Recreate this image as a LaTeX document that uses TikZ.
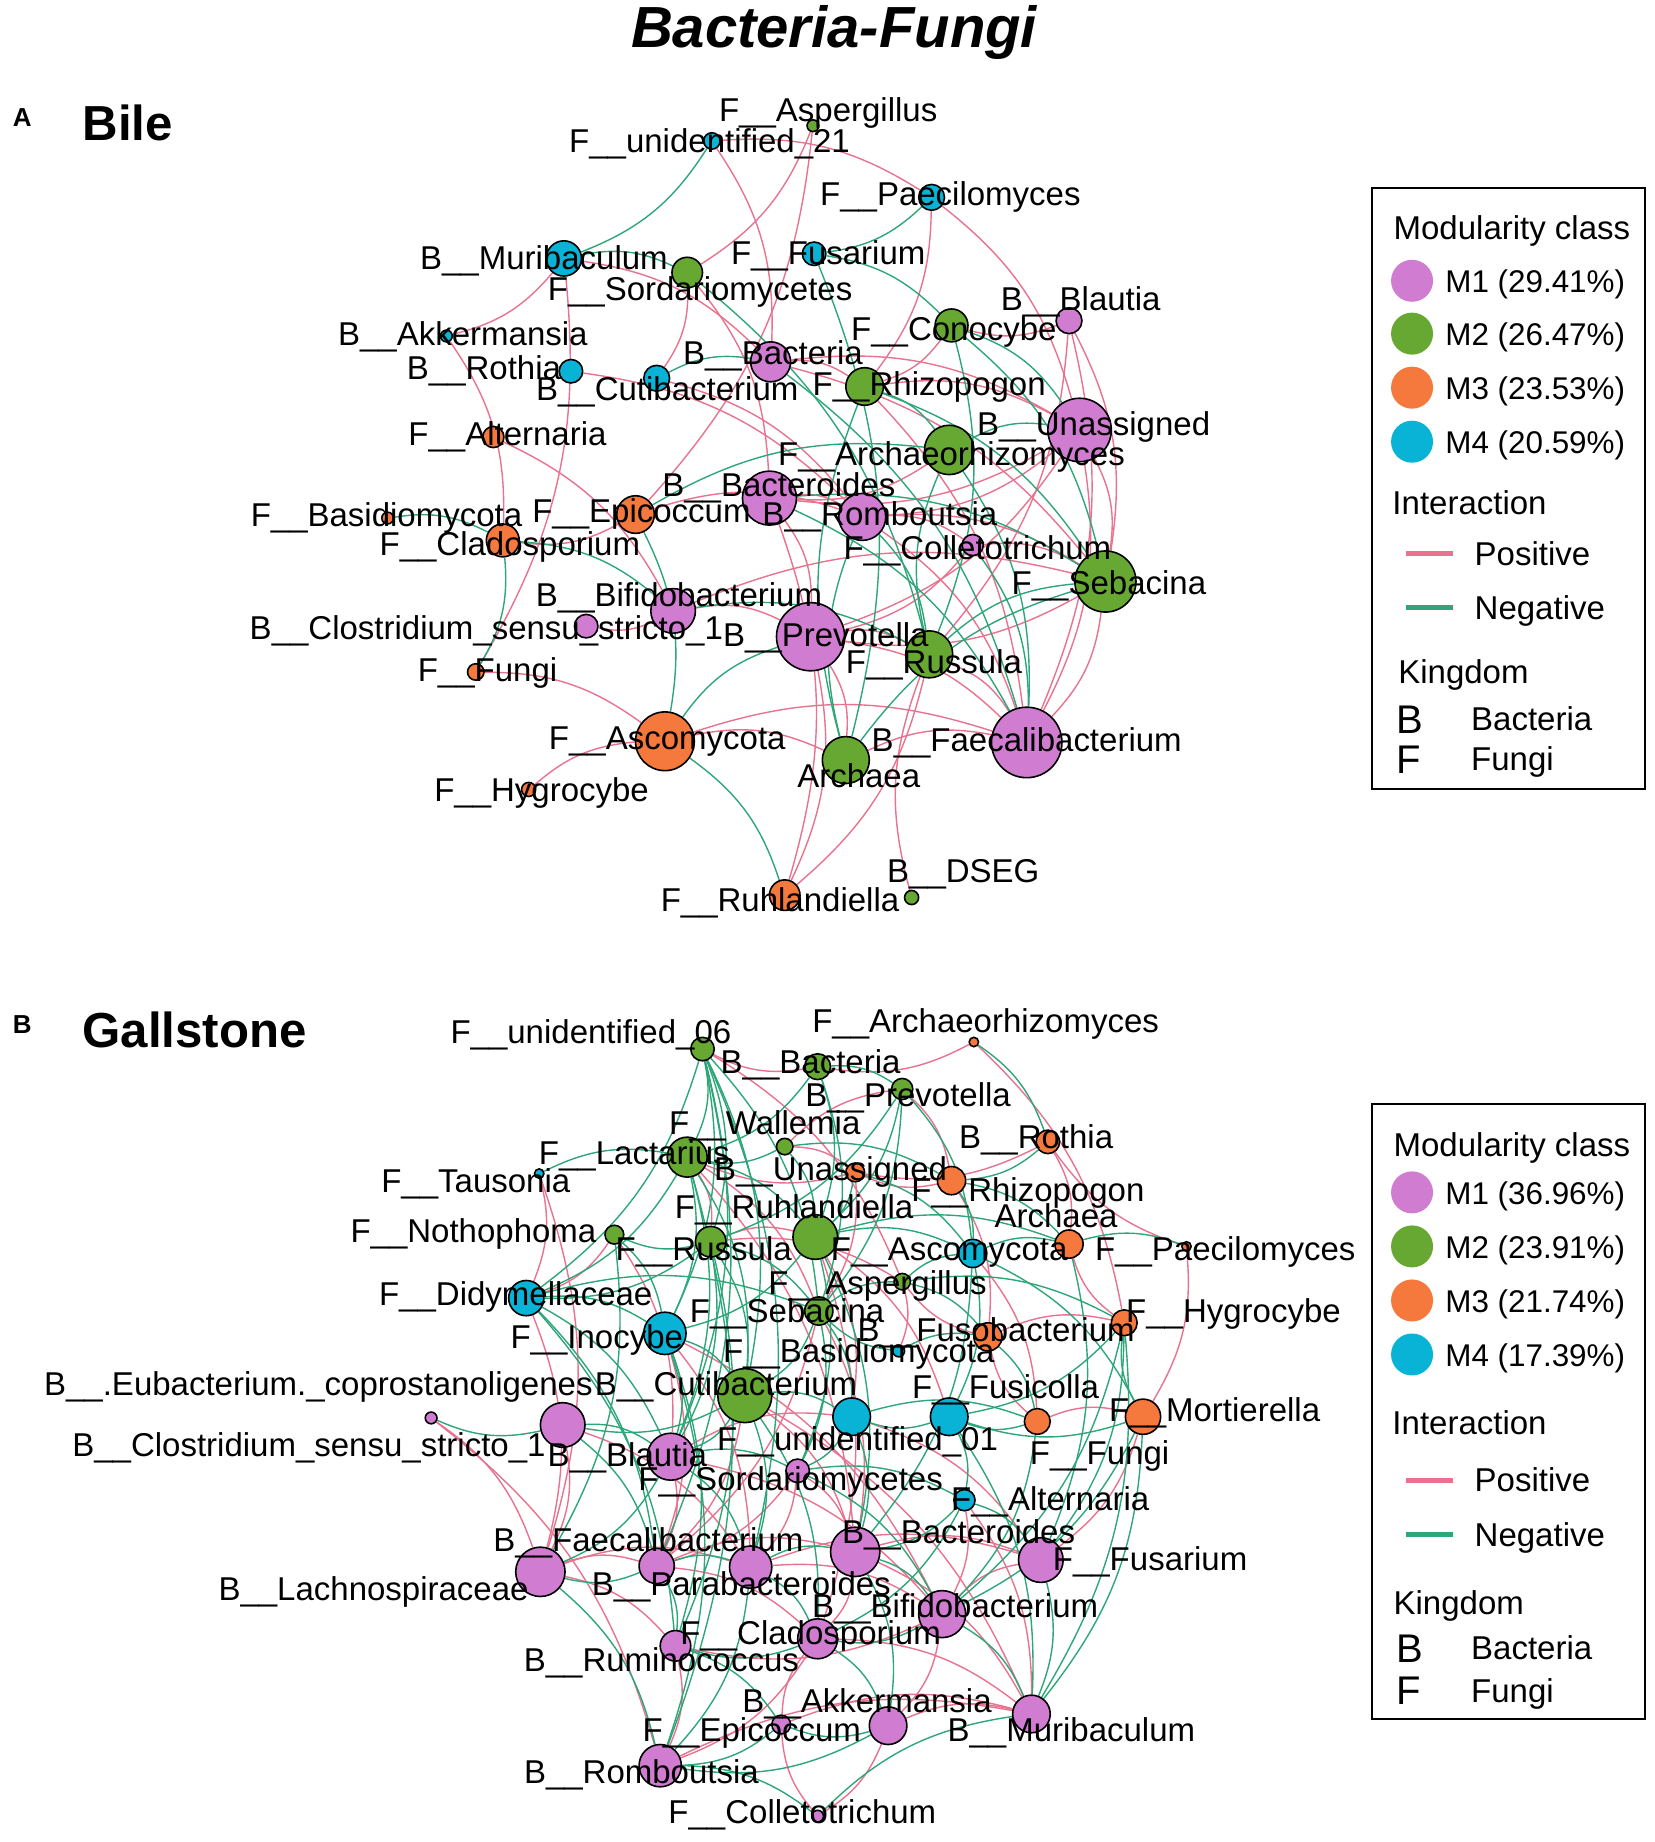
\documentclass[tikz,border=0pt]{standalone}
\usepackage{fontspec}
\setmainfont{Liberation Sans}
\usetikzlibrary{backgrounds}

\definecolor{modA}{HTML}{D07CD0}
\definecolor{modB}{HTML}{66A832}
\definecolor{modC}{HTML}{F5783C}
\definecolor{modD}{HTML}{08B3D6}
\definecolor{posline}{HTML}{E8728F}
\definecolor{negline}{HTML}{2DA679}

% name/x/y/radius/colour/label x/label y/label
\def\bilenodes{aAsp/692/107/5/modB/705/93/F\_\_Aspergillus,
aU21/606/120/7/modD/604/120/F\_\_unidentified\_21,
aPae/793/168/11/modD/809/165/F\_\_Paecilomyces,
aMur/480/220/15/modD/463/219/B\_\_Muribaculum,
aSor/585/232/13/modB/596/246/F\_\_Sordariomycetes,
aFus/693/216/10/modD/705/215/F\_\_Fusarium,
aBla/910/273/11/modA/920/254/B\_\_Blautia,
aCon/810/277/14/modB/812/280/F\_\_Conocybe,
aAkk/380/286/5/modD/394/284/B\_\_Akkermansia,
aBac/656/308/17/modA/658/300/B\_\_Bacteria,
aRot/486/316/10/modD/412/313/B\_\_Rothia,
aCut/559/322/11/modD/568/331/B\_\_Cutibacterium,
aRhi/736/329/16/modB/791/327/F\_\_Rhizopogon,
aUna/919/366/27/modA/931/361/B\_\_Unassigned,
aAlt/420/372/9/modC/432/369/F\_\_Alternaria,
aArz/808/383/21/modB/810/386/F\_\_Archaeorhizomyces,
aBtd/655/424/23/modA/663/413/B\_\_Bacteroides,
aEpi/541/438/16/modC/546/435/F\_\_Epicoccum,
aRom/734/440/20/modA/749/437/B\_\_Romboutsia,
aBas/330/441/5/modC/329/438/F\_\_Basidiomycota,
aCla/428/460/14/modC/434/463/F\_\_Cladosporium,
aCol/828/464/9/modA/832/466/F\_\_Colletotrichum,
aSeb/941/495/26/modB/944/496/F\_\_Sebacina,
aBif/573/520/19/modA/578/506/B\_\_Bifidobacterium,
aClo/499/533/10/modA/414/534/B\_\_Clostridium\_sensu\_stricto\_1,
aPre/690/542/29/modA/703/540/B\_\_Prevotella,
aRus/791/557/20/modB/795/563/F\_\_Russula,
aFun/405/572/7/modC/415/570/F\_\_Fungi,
aAsc/566/631/25/modC/568/628/F\_\_Ascomycota,
aFae/874/632/30/modA/874/630/B\_\_Faecalibacterium,
aArc/720/647/20/modB/731/660/Archaea,
aHyg/450/672/6/modC/461/672/F\_\_Hygrocybe,
aDse/776/764/6/modB/820/741/B\_\_DSEG,
aRuh/668/762/13/modC/664/766/F\_\_Ruhlandiella}

\def\gallnodes{bU06/598/893/10/modB/503/878/F\_\_unidentified\_06,
bArz/829/887/4/modC/839/869/F\_\_Archaeorhizomyces,
bBac/696/908/11/modB/690/904/B\_\_Bacteria,
bPre/768/927/9/modB/773/932/B\_\_Prevotella,
bWal/668/976/7/modB/651/956/F\_\_Wallemia,
bRot/892/972/10/modC/882/968/B\_\_Rothia,
bLac/585/985/17/modB/540/981/F\_\_Lactarius,
bUna/728/998/8/modC/707/995/B\_\_Unassigned,
bTau/459/999/4/modD/405/1005/F\_\_Tausonia,
bRhi/810/1005/12/modC/875/1013/F\_\_Rhizopogon,
bRuh/694/1053/19/modB/676/1027/F\_\_Ruhlandiella,
bArc/910/1059/12/modC/899/1035/Archaea,
bNot/523/1051/8/modB/403/1048/F\_\_Nothophoma,
bRus/605/1057/13/modB/599/1063/F\_\_Russula,
bAsc/828/1067/12/modD/808/1063/F\_\_Ascomycota,
bPae/1010/1061/4/modC/1043/1063/F\_\_Paecilomyces,
bAsp/768/1091/7/modB/747/1092/F\_\_Aspergillus,
bDid/448/1105/15/modD/439/1101/F\_\_Didymellaceae,
bHyg/957/1126/11/modC/1050/1116/F\_\_Hygrocybe,
bSeb/697/1116/12/modB/670/1116/F\_\_Sebacina,
bIno/566/1135/18/modD/508/1138/F\_\_Inocybe,
bFsb/841/1138/12/modC/848/1132/B\_\_Fusobacterium,
bBas/765/1150/5/modD/731/1150/F\_\_Basidiomycota,
bCut/634/1188/23/modB/618/1178/B\_\_Cutibacterium,
bEub/479/1213/19/modA/271/1178/B\_\_.Eubacterium.\_coprostanoligenes,
bFsc/808/1206/16/modD/856/1180/F\_\_Fusicolla,
bMor/973/1206/15/modC/1034/1200/F\_\_Mortierella,
bU01/725/1206/16/modD/730/1225/F\_\_unidentified\_01,
bFun/883/1210/11/modC/936/1237/F\_\_Fungi,
bClo/367/1207/5/modA/263/1230/B\_\_Clostridium\_sensu\_stricto\_1,
bBla/571/1240/20/modA/534/1238/B\_\_Blautia,
bSor/679/1252/10/modA/673/1259/F\_\_Sordariomycetes,
bAlt/821/1277/9/modD/894/1276/F\_\_Alternaria,
bFae/559/1333/15/modA/552/1311/B\_\_Faecalibacterium,
bLch/460/1338/21/modA/318/1352/B\_\_Lachnospiraceae,
bPar/639/1334/18/modA/631/1348/B\_\_Parabacteroides,
bBtd/728/1321/21/modA/816/1304/B\_\_Bacteroides,
bFsr/886/1328/19/modA/979/1327/F\_\_Fusarium,
bBif/802/1374/20/modA/813/1367/B\_\_Bifidobacterium,
bCla/696/1395/17/modA/690/1390/F\_\_Cladosporium,
bRum/575/1401/13/modA/563/1413/B\_\_Ruminococcus,
bAkk/756/1469/16/modA/738/1448/B\_\_Akkermansia,
bMur/878/1459/16/modA/912/1472/B\_\_Muribaculum,
bEpi/665/1468/8/modA/640/1472/F\_\_Epicoccum,
bRom/562/1503/18/modA/546/1508/B\_\_Romboutsia,
bCol/696/1546/5/modA/683/1542/F\_\_Colletotrichum}

\begin{document}
\begin{tikzpicture}[x=0.5874pt,y=-0.5874pt,
  otu/.style={circle,draw=black,line width=0.8pt,inner sep=0pt},
  otulabel/.style={inner sep=0pt,text height=11.8pt,text depth=0pt,
    font=\fontsize{16.5}{18}\selectfont},
  lgtext/.style={inner sep=0pt,text height=11.8pt,text depth=0pt,anchor=west,
    font=\fontsize{16.5}{18}\selectfont},
  lgdot/.style={circle,inner sep=0pt,minimum size=21pt},
  poslink/.style={draw=posline,line width=0.7pt},
  neglink/.style={draw=negline,line width=0.7pt},
  panel/.style={font=\fontsize{24.6}{28}\selectfont\bfseries,anchor=west,inner sep=0pt},
  tag/.style={font=\fontsize{13}{15}\selectfont\bfseries,inner sep=0pt}]
\useasboundingbox (0,0) rectangle (1408,1568);

\node[font=\fontsize{29}{32}\selectfont\bfseries\itshape] (title) at (710,28) {Bacteria-Fungi};
\node[tag] (tagA) at (19,100) {A};
\node[panel] (bile) at (70,105) {Bile};
\node[tag] (tagB) at (19,872) {B};
\node[panel] (gall) at (70,877) {Gallstone};

% nodes
\foreach \n/\x/\y/\r/\c/\lx/\ly/\t in \bilenodes
  \node[otu,fill=\c,minimum size=\r*1.1748pt] (\n) at (\x,\y) {};
\foreach \n/\x/\y/\r/\c/\lx/\ly/\t in \gallnodes
  \node[otu,fill=\c,minimum size=\r*1.1748pt] (\n) at (\x,\y) {};

% edges
\begin{scope}[on background layer]
\foreach \a/\b in {aU21/aPae,aAsp/aSor,aAsp/aEpi,aPae/aUna,aPae/aRhi,aMur/aAkk,aMur/aBac,
  aMur/aFun,aAkk/aCla,aSor/aBtd,aU21/aBac,aRot/aRom,aAlt/aBif,aBla/aCon,aBla/aFae,aBla/aSeb,
  aCon/aRhi,aBac/aRhi,aBac/aUna,aBac/aSeb,aRhi/aUna,aRhi/aFae,aUna/aFae,aUna/aBtd,aUna/aRom,
  aUna/aPre,aArz/aBtd,aBtd/aRom,aBtd/aPre,aBtd/aRuh,aEpi/aCla,aEpi/aRom,aRom/aSeb,aRom/aCol,
  aRom/aFae,aCol/aSeb,aCol/aPre,aSeb/aPre,aSeb/aFae,aBif/aClo,aBif/aPre,aBif/aSeb,aPre/aRus,
  aPre/aFae,aPre/aArc,aPre/aRuh,aRus/aFae,aRus/aRuh,aFun/aAsc,aHyg/aAsc,aAsc/aFae,aAsc/aArc,
  aArc/aFae,aDse/aRus,aCut/aRom,aSor/aCut,aBla/aRus,aUna/aSeb}
  \draw[poslink] (\a) to[bend left=18] (\b);
\foreach \a/\b in {aU21/aMur,aPae/aFus,aFus/aCon,aFus/aArc,aMur/aSor,aCut/aBac,aCon/aUna,
  aCon/aRus,aSor/aRus,aRhi/aArz,aRhi/aSeb,aArz/aUna,aBtd/aSeb,aBtd/aFae,aCol/aFae,aEpi/aAsc,
  aEpi/aArz,aBas/aCla,aCla/aFun,aCla/aBif,aAsc/aRuh,aAsc/aPre,aRus/aSeb,aArc/aRom,aArc/aRhi,
  aArc/aSeb,aRus/aArz,aBif/aRus,aBac/aFae,aCon/aSeb,aRom/aRus,aArz/aFae}
  \draw[neglink] (\a) to[bend left=18] (\b);

\foreach \a/\b in {bArz/bHyg,bArz/bBac,bPae/bRot,bPae/bMor,bRot/bUna,bRot/bArc,bRhi/bUna,
  bRhi/bFsb,bUna/bSeb,bUna/bLac,bTau/bLch,bTau/bDid,bNot/bDid,bClo/bRom,bClo/bLch,bEub/bLch,
  bEub/bPar,bLch/bPar,bLch/bFae,bLch/bRum,bFae/bBtd,bFae/bCla,bPar/bBif,bPar/bFsr,bBtd/bFsr,
  bBtd/bCla,bBtd/bMur,bBif/bFsr,bBif/bAkk,bBif/bRum,bCla/bRom,bCla/bMur,bRum/bRom,bAkk/bMur,
  bAkk/bCol,bEpi/bMur,bRom/bMur,bCol/bEpi,bSor/bBtd,bSor/bPar,bSor/bFae,bBla/bFae,bBla/bBif,
  bBla/bU01,bU01/bFsr,bFun/bMor,bFun/bFsb,bFsb/bHyg,bFsb/bAsp,bHyg/bArc,bAsc/bFun,bSeb/bBtd,
  bSeb/bFae,bIno/bFae,bIno/bPar,bDid/bLch,bLac/bSeb,bLac/bRus,bRus/bRuh,bRuh/bU01,bRuh/bFsc,
  bWal/bPre,bBac/bU06,bPre/bRhi,bCut/bFae,bCut/bBtd,bAlt/bMur,bAlt/bBif,bMor/bFsr,bAsp/bBas,
  bU06/bAsp,bWal/bUna,bNot/bBla,bRus/bAsp,bEpi/bCla,bLac/bBtd,bRuh/bCla,bCut/bMur,bIno/bBif}
  \draw[poslink] (\a) to[bend left=18] (\b);
\foreach \a/\b in {bU06/bLac,bU06/bRus,bU06/bDid,bU06/bIno,bU06/bCut,bU06/bSeb,bU06/bBla,
  bU06/bFae,bBac/bPre,bBac/bRuh,bBac/bLac,bPre/bRuh,bPre/bRus,bPre/bAsc,bWal/bLac,bWal/bRuh,
  bWal/bRhi,bLac/bRuh,bLac/bDid,bLac/bIno,bLac/bCut,bLac/bBla,bRuh/bAsc,bRuh/bArc,bRuh/bIno,
  bRuh/bSor,bRuh/bBtd,bRus/bNot,bRus/bDid,bRus/bSeb,bRus/bCut,bRus/bBla,bNot/bIno,bNot/bLch,
  bDid/bIno,bDid/bSeb,bDid/bBla,bDid/bFae,bIno/bCut,bIno/bBla,bIno/bRom,bIno/bRum,bSeb/bAsp,
  bSeb/bCut,bSeb/bU01,bSeb/bSor,bAsp/bAsc,bAsp/bFsb,bAsp/bHyg,bAsc/bArc,bAsc/bFsc,bAsc/bMor,
  bArc/bPae,bArz/bRot,bHyg/bMur,bHyg/bFsr,bMor/bFsc,bMor/bMur,bFun/bFsc,bFun/bBif,bFsc/bU01,
  bFsc/bAlt,bU01/bSor,bU01/bBtd,bCut/bBla,bCut/bEub,bCut/bPar,bCut/bCla,bEub/bClo,bEub/bFae,
  bBla/bSor,bBla/bLch,bBla/bPar,bSor/bBif,bAlt/bBtd,bAlt/bFsr,bFae/bLch,bFae/bRum,bLch/bRom,
  bPar/bBtd,bPar/bCla,bBtd/bBif,bBtd/bAkk,bFsr/bMur,bBif/bCla,bBif/bMur,bCla/bRum,bCla/bAkk,
  bRum/bEpi,bAkk/bEpi,bAkk/bRom,bEpi/bRom,bRom/bCol,bCol/bMur,bTau/bLac,bBas/bSeb,bBas/bFsb,
  bUna/bRuh,bUna/bAsc,bRhi/bArc,bRhi/bAsc,bRot/bRhi,bSor/bAlt,bU01/bFun,bFsb/bFun,bHyg/bFsc,
  bMor/bHyg,bDid/bRum,bPar/bRom,bFae/bPar,bCut/bU01,bEub/bBla,bBac/bSeb,bPre/bSeb,bU06/bPar,
  bLac/bRom,bRus/bRum,bAsc/bBtd,bArc/bFsr,bHyg/bBif,bMor/bBif,bFsc/bMur,bAlt/bCla}
  \draw[neglink] (\a) to[bend left=18] (\b);
\end{scope}

% labels
\foreach \n/\x/\y/\r/\c/\lx/\ly/\t in \bilenodes
  \node[otulabel] (l\n) at (\lx,\ly) {\t};
\foreach \n/\x/\y/\r/\c/\lx/\ly/\t in \gallnodes
  \node[otulabel] (l\n) at (\lx,\ly) {\t};

% legend A
\draw[line width=1pt] (1168,160) rectangle (1400,672);
\node[lgtext] (lgAmod) at (1186,194) {Modularity class};
\foreach \i/\yy/\c/\t in {1/239/modA/M1 (29.41\%),2/284/modB/M2 (26.47\%),
  3/330/modC/M3 (23.53\%),4/376/modD/M4 (20.59\%)} {
  \node[lgdot,fill=\c] (lgAc\i) at (1202,\yy) {};
  \node[lgtext,font=\fontsize{15.7}{18}\selectfont] (lgAt\i) at (1230,\yy) {\t};
}
\node[lgtext] (lgAint) at (1185,428) {Interaction};
\coordinate (lgApa) at (1197,471); \coordinate (lgApb) at (1237,471);
\draw[poslink,line width=2.5pt] (lgApa) -- (lgApb);
\node[lgtext] (lgApos) at (1255,471) {Positive};
\coordinate (lgAna) at (1197,517); \coordinate (lgAnb) at (1237,517);
\draw[neglink,line width=2.5pt] (lgAna) -- (lgAnb);
\node[lgtext] (lgAneg) at (1255,517) {Negative};
\node[lgtext] (lgAkin) at (1190,572) {Kingdom};
\node[lgtext,font=\fontsize{20}{22}\selectfont,text height=14.3pt] (lgAB) at (1188,612) {B};
\node[lgtext] (lgAbac) at (1252,612) {Bacteria};
\node[lgtext,font=\fontsize{20}{22}\selectfont,text height=14.3pt] (lgAF) at (1188,646) {F};
\node[lgtext] (lgAfun) at (1252,646) {Fungi};

% legend B
\draw[line width=1pt] (1168,940) rectangle (1400,1463);
\node[lgtext] (lgBmod) at (1186,974) {Modularity class};
\foreach \i/\yy/\c/\t in {1/1015/modA/M1 (36.96\%),2/1061/modB/M2 (23.91\%),
  3/1107/modC/M3 (21.74\%),4/1153/modD/M4 (17.39\%)} {
  \node[lgdot,fill=\c] (lgBc\i) at (1202,\yy) {};
  \node[lgtext,font=\fontsize{15.7}{18}\selectfont] (lgBt\i) at (1230,\yy) {\t};
}
\node[lgtext] (lgBint) at (1185,1211) {Interaction};
\coordinate (lgBpa) at (1197,1260); \coordinate (lgBpb) at (1237,1260);
\draw[poslink,line width=2.5pt] (lgBpa) -- (lgBpb);
\node[lgtext] (lgBpos) at (1255,1260) {Positive};
\coordinate (lgBna) at (1197,1306); \coordinate (lgBnb) at (1237,1306);
\draw[neglink,line width=2.5pt] (lgBna) -- (lgBnb);
\node[lgtext] (lgBneg) at (1255,1306) {Negative};
\node[lgtext] (lgBkin) at (1186,1364) {Kingdom};
\node[lgtext,font=\fontsize{20}{22}\selectfont,text height=14.3pt] (lgBB) at (1188,1403) {B};
\node[lgtext] (lgBbac) at (1252,1403) {Bacteria};
\node[lgtext,font=\fontsize{20}{22}\selectfont,text height=14.3pt] (lgBF) at (1188,1439) {F};
\node[lgtext] (lgBfun) at (1252,1439) {Fungi};
\end{tikzpicture}
\end{document}
